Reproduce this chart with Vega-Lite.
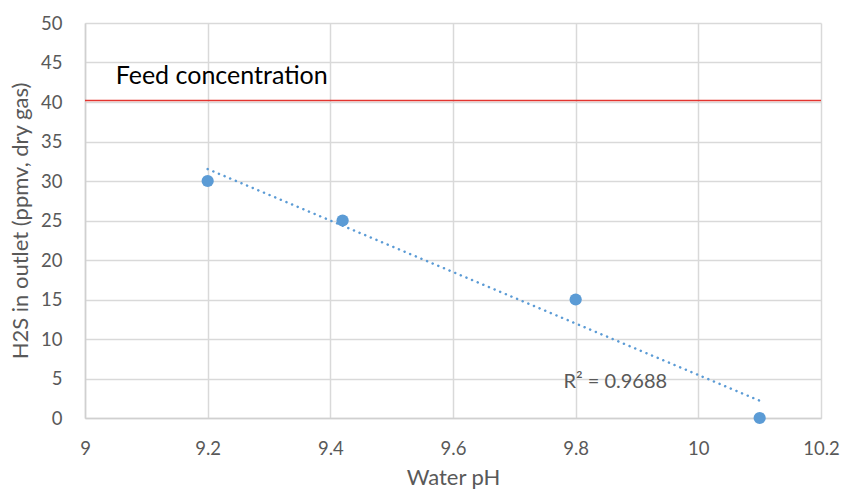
{
  "$schema": "https://vega.github.io/schema/vega-lite/v6.json",
  "width": 736,
  "height": 395,
  "autosize": {"type": "none"},
  "padding": {"left": 85, "top": 23, "right": 22, "bottom": 76},
  "background": "white",
  "config": {
    "font": "Lato",
    "view": {"stroke": null},
    "axis": {
      "gridColor": "#d9d9d9",
      "gridWidth": 1.5,
      "domainColor": "#d0d0d0",
      "domainWidth": 1.5,
      "ticks": false,
      "labelColor": "#595959",
      "labelFontSize": 18.5,
      "titleColor": "#595959",
      "titleFontSize": 22,
      "titleFontWeight": "normal"
    }
  },
  "datasets": {
    "measurements": [
      {"pH": 9.2, "h2s": 30},
      {"pH": 9.42, "h2s": 25},
      {"pH": 9.8, "h2s": 15},
      {"pH": 10.1, "h2s": 0}
    ],
    "feed": [{"h2s": 40.2, "pH": 9.05, "labelLevel": 43.3, "label": "Feed concentration"}],
    "fit": [{"pH": 9.78, "h2s": 4.6, "label": "R² = 0.9688"}]
  },
  "encoding": {
    "x": {
      "field": "pH",
      "type": "quantitative",
      "scale": {"domain": [9, 10.2], "nice": false, "zero": false},
      "axis": {
        "values": [9, 9.2, 9.4, 9.6, 9.8, 10, 10.2],
        "format": "~g",
        "labelPadding": 21,
        "titlePadding": 10,
        "title": "Water pH",
        "labelFlush": false
      }
    },
    "y": {
      "field": "h2s",
      "type": "quantitative",
      "scale": {"domain": [0, 50], "nice": false},
      "axis": {
        "values": [0, 5, 10, 15, 20, 25, 30, 35, 40, 45, 50],
        "labelPadding": 23,
        "titlePadding": 8,
        "title": "H2S in outlet (ppmv, dry gas)"
      }
    }
  },
  "layer": [
    {
      "data": {"name": "feed"},
      "mark": {"type": "rule", "color": "#e3342f", "strokeWidth": 1.5},
      "encoding": {"x": null}
    },
    {
      "data": {"name": "measurements"},
      "transform": [
        {"regression": "h2s", "on": "pH", "method": "linear", "extent": [9.2, 10.1]}
      ],
      "mark": {
        "type": "line",
        "color": "#5b9bd5",
        "strokeWidth": 2.5,
        "strokeDash": [0.1, 6],
        "strokeCap": "round"
      }
    },
    {
      "data": {"name": "measurements"},
      "mark": {"type": "point", "filled": true, "opacity": 1, "color": "#5b9bd5", "size": 150}
    },
    {
      "data": {"name": "feed"},
      "mark": {"type": "text", "align": "left", "baseline": "middle", "fontSize": 25, "color": "#000000"},
      "encoding": {
        "y": {"field": "labelLevel", "type": "quantitative"},
        "text": {"field": "label"}
      }
    },
    {
      "data": {"name": "fit"},
      "mark": {"type": "text", "align": "left", "baseline": "middle", "fontSize": 20, "color": "#595959"},
      "encoding": {"text": {"field": "label"}}
    }
  ]
}
